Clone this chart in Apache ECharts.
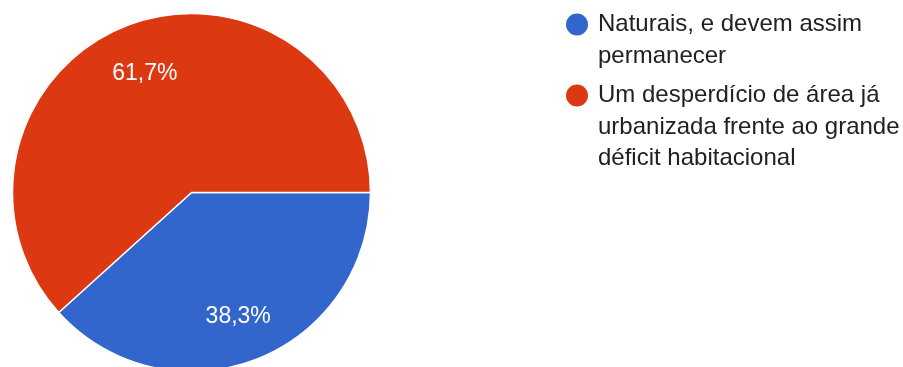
<!DOCTYPE html>
<html>
<head>
<meta charset="utf-8">
<script src="https://cdn.jsdelivr.net/npm/echarts@6/dist/echarts.min.js"></script>
<style>
  html, body { margin: 0; padding: 0; background: #fff; }
  #chart { width: 903px; height: 367px; }
</style>
</head>
<body>
<div id="chart"></div>
<script>
// Survey answers and their shares (%)
const categories = [
  'Naturais, e devem assim permanecer',
  'Um desperdício de área já urbanizada frente ao grande déficit habitacional'
];
const values = [38.3, 61.7];
// Wrapped legend text, one entry per category
const legendLines = [
  ['Naturais, e devem assim', 'permanecer'],
  ['Um desperdício de área já', 'urbanizada frente ao grande', 'déficit habitacional']
];
const colors = ['#3366cc', '#dc3912'];

const FONT = 'Liberation Sans, Arial, sans-serif';
const LEGEND_SIZE = 24;
const LABEL_SIZE = 23;
const LINE_H = 31.5;
const CENTER = [191.5, 192.5];
const RADIUS = 179;

const data = categories.map((name, i) => ({ name, value: values[i] }));
const fmtPct = v => v.toFixed(1).replace('.', ',') + '%';

// Legend text is vertically centred on its icon, so each wrapped entry is
// preceded by blank lines to keep the icon beside the first text line.
function legendText(lines) {
  return new Array(lines.length - 1).fill(' ').concat(lines).join('\n');
}

// One legend per item so each can be placed on its own row
const iconCenters = [24.5, 95.5];
const legends = categories.map((name, i) => {
  const n = legendLines[i].length;
  return {
    orient: 'vertical',
    left: 564,
    top: iconCenters[i] - (2 * n - 1) * LINE_H / 2,
    icon: 'circle',
    itemWidth: 24,
    itemHeight: 24,
    itemGap: 0,
    padding: 0,
    selectedMode: false,
    data: [name],
    formatter: nm => legendText(legendLines[categories.indexOf(nm)]),
    textStyle: {
      fontFamily: FONT,
      fontSize: LEGEND_SIZE,
      lineHeight: LINE_H,
      color: '#212121',
      padding: [0, 0, 0, 4]
    }
  };
});

const chart = echarts.init(document.getElementById('chart'), null, { renderer: 'canvas' });
chart.setOption({
  animation: false,
  color: colors,
  legend: legends,
  series: [
    {
      type: 'pie',
      center: CENTER,
      radius: [0, RADIUS],
      startAngle: 0,
      clockwise: true,
      silent: true,
      data: data,
      itemStyle: { borderColor: '#ffffff', borderWidth: 1.5 },
      label: { show: false },
      labelLine: { show: false }
    },
    {
      // transparent ring that places percentage labels at ~72% of the radius
      type: 'pie',
      center: CENTER,
      radius: [78, 176],
      startAngle: 0,
      clockwise: true,
      silent: true,
      legendHoverLink: false,
      data: data,
      itemStyle: { color: 'rgba(0,0,0,0)', borderWidth: 0 },
      label: {
        show: true,
        position: 'inside',
        offset: [0, 2.5],
        formatter: p => fmtPct(p.value),
        color: '#ffffff',
        fontFamily: FONT,
        fontSize: LABEL_SIZE
      },
      labelLine: { show: false }
    }
  ]
});
</script>
</body>
</html>
